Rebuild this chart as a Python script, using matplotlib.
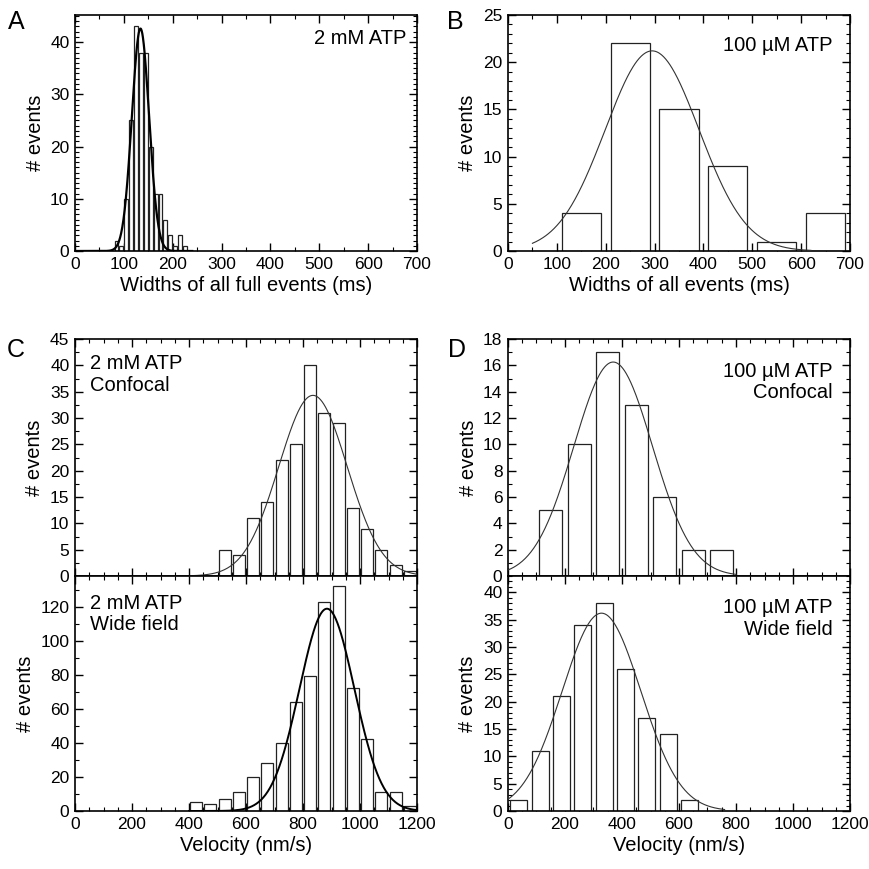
import numpy as np
import matplotlib
matplotlib.use('Agg')
import matplotlib.pyplot as plt
from matplotlib.ticker import MultipleLocator

plt.rcParams['font.family'] = ['Liberation Sans', 'DejaVu Sans']
plt.rcParams['font.size'] = 12

# ---- data ----
# A: widths of all full events, 2 mM ATP (10 ms bins)
a_centers = [85, 95, 105, 115, 125, 135, 145, 155, 165, 175, 185, 195, 205, 215, 225]
a_counts = [2, 1, 10, 25, 43, 38, 38, 20, 11, 11, 6, 3, 1, 3, 1]
a_fit = (134, 17.6, 42.6)          # mean, sd, peak

# B: widths of all events, 100 uM ATP (100 ms bins)
b_centers = [150, 250, 350, 450, 550, 650]
b_counts = [4, 22, 15, 9, 1, 4]
b_fit = (295, 96, 21.2)

# C: velocity, 2 mM ATP (50 nm/s bins)
c1_centers = [525, 575, 625, 675, 725, 775, 825, 875, 925, 975, 1025, 1075, 1125, 1175]
c1_counts = [5, 4, 11, 14, 22, 25, 40, 31, 29, 13, 9, 5, 2, 1]
c1_fit = (835, 120, 34.3)
c2_centers = [425, 475, 525, 575, 625, 675, 725, 775, 825, 875, 925, 975, 1025, 1075, 1125, 1175]
c2_counts = [5, 4, 7, 11, 20, 28, 40, 64, 79, 123, 132, 72, 42, 11, 11, 3]
c2_fit = (884, 96, 118.8)

# D: velocity, 100 uM ATP
d1_centers = [150, 250, 350, 450, 550, 650, 750]
d1_counts = [5, 10, 17, 13, 6, 2, 2]
d1_fit = (369, 138, 16.25)
d2_centers = [37.5, 112.5, 187.5, 262.5, 337.5, 412.5, 487.5, 562.5, 637.5]
d2_counts = [2, 11, 21, 34, 38, 26, 17, 14, 2]
d2_fit = (328, 138, 36.2)

LABEL_FS = 14.5
TICK_FS = 12.5


def gauss(x, fit):
    m, s, h = fit
    return h * np.exp(-(x - m) ** 2 / (2 * s ** 2))


W, H = 870, 869
fig = plt.figure(figsize=(W / 100, H / 100), dpi=100)


def px_axes(x0, x1, y0, y1):
    return fig.add_axes([x0 / W, (H - y1) / H, (x1 - x0) / W, (y1 - y0) / H])


def style(ax, xmaj, xmin, ymaj, ymin):
    ax.xaxis.set_major_locator(MultipleLocator(xmaj))
    ax.xaxis.set_minor_locator(MultipleLocator(xmin))
    ax.yaxis.set_major_locator(MultipleLocator(ymaj))
    ax.yaxis.set_minor_locator(MultipleLocator(ymin))
    ax.tick_params(which='both', direction='in', top=True, right=True, labelsize=TICK_FS)
    ax.tick_params(which='major', length=6, width=1, pad=4)
    ax.tick_params(which='minor', length=3, width=0.8)
    for sp in ax.spines.values():
        sp.set_linewidth(1.2)


def bars(ax, centers, counts, width):
    ax.bar(centers, counts, width=width, facecolor='white', edgecolor='#222222', linewidth=0.9, zorder=2)


# A
axA = px_axes(75, 417, 15, 251)
bars(axA, a_centers, a_counts, 8)
xa = np.linspace(0, 240, 400)
axA.plot(xa, gauss(xa, a_fit), color='black', lw=1.6, zorder=3)
axA.set_xlim(0, 700)
axA.set_ylim(0, 45.2)
style(axA, 100, 50, 10, 1)
axA.set_ylabel('# events', fontsize=LABEL_FS, labelpad=4)
axA.set_xlabel('Widths of all full events (ms)', fontsize=LABEL_FS, labelpad=3)
axA.text(0.97, 0.90, '2 mM ATP', transform=axA.transAxes, ha='right', va='center', fontsize=LABEL_FS)

# B
axB = px_axes(508, 850, 15, 251)
bars(axB, b_centers, b_counts, 80)
xb = np.linspace(50, 620, 400)
axB.plot(xb, gauss(xb, b_fit), color='#333333', lw=0.8, zorder=3)
axB.set_xlim(0, 700)
axB.set_ylim(0, 25)
style(axB, 100, 50, 5, 1)
axB.set_ylabel('# events', fontsize=LABEL_FS, labelpad=4)
axB.set_xlabel('Widths of all events (ms)', fontsize=LABEL_FS, labelpad=3)
axB.text(0.95, 0.87, '100 µM ATP', transform=axB.transAxes, ha='right', va='center', fontsize=LABEL_FS)

# C top
axC1 = px_axes(75, 417, 339, 576)
bars(axC1, c1_centers, c1_counts, 42)
xc = np.linspace(400, 1200, 400)
axC1.plot(xc, gauss(xc, c1_fit), color='#333333', lw=0.8, zorder=3)
axC1.set_xlim(0, 1200)
axC1.set_ylim(0, 45)
style(axC1, 200, 50, 5, 2.5)
axC1.tick_params(labelbottom=False)
axC1.set_ylabel('# events', fontsize=LABEL_FS, labelpad=4)
axC1.text(0.045, 0.935, '2 mM ATP\nConfocal', transform=axC1.transAxes, ha='left', va='top',
          fontsize=LABEL_FS, linespacing=1.15)

# C bottom
axC2 = px_axes(75, 417, 576, 811)
bars(axC2, c2_centers, c2_counts, 42)
axC2.plot(xc, gauss(xc, c2_fit), color='black', lw=1.4, zorder=3)
axC2.set_xlim(0, 1200)
axC2.set_ylim(0, 138)
style(axC2, 200, 50, 20, 10)
axC2.set_ylabel('# events', fontsize=LABEL_FS, labelpad=4)
axC2.set_xlabel('Velocity (nm/s)', fontsize=LABEL_FS, labelpad=3)
axC2.text(0.045, 0.925, '2 mM ATP\nWide field', transform=axC2.transAxes, ha='left', va='top',
          fontsize=LABEL_FS, linespacing=1.15)

# D top
axD1 = px_axes(508, 850, 339, 576)
bars(axD1, d1_centers, d1_counts, 80)
xd1 = np.linspace(0, 800, 400)
axD1.plot(xd1, gauss(xd1, d1_fit), color='#333333', lw=0.8, zorder=3)
axD1.set_xlim(0, 1200)
axD1.set_ylim(0, 18)
style(axD1, 200, 50, 2, 1)
axD1.tick_params(labelbottom=False)
axD1.set_ylabel('# events', fontsize=LABEL_FS, labelpad=4)
axD1.text(0.95, 0.905, '100 µM ATP\nConfocal', transform=axD1.transAxes, ha='right', va='top',
          fontsize=LABEL_FS, linespacing=1.15)

# D bottom
axD2 = px_axes(508, 850, 576, 811)
bars(axD2, d2_centers, d2_counts, 60)
xd2 = np.linspace(0, 760, 400)
axD2.plot(xd2, gauss(xd2, d2_fit), color='#333333', lw=0.8, zorder=3)
axD2.set_xlim(0, 1200)
axD2.set_ylim(0, 43)
style(axD2, 200, 50, 5, 1)
axD2.set_ylabel('# events', fontsize=LABEL_FS, labelpad=4)
axD2.set_xlabel('Velocity (nm/s)', fontsize=LABEL_FS, labelpad=3)
axD2.text(0.95, 0.905, '100 µM ATP\nWide field', transform=axD2.transAxes, ha='right', va='top',
          fontsize=LABEL_FS, linespacing=1.15)

# panel letters
for lbl, x, y in [('A', 16, 22), ('B', 455, 22), ('C', 16, 350), ('D', 457, 350)]:
    fig.text(x / W, 1 - y / H, lbl, fontsize=18, ha='center', va='center')

fig.savefig('out.png', dpi=100)
